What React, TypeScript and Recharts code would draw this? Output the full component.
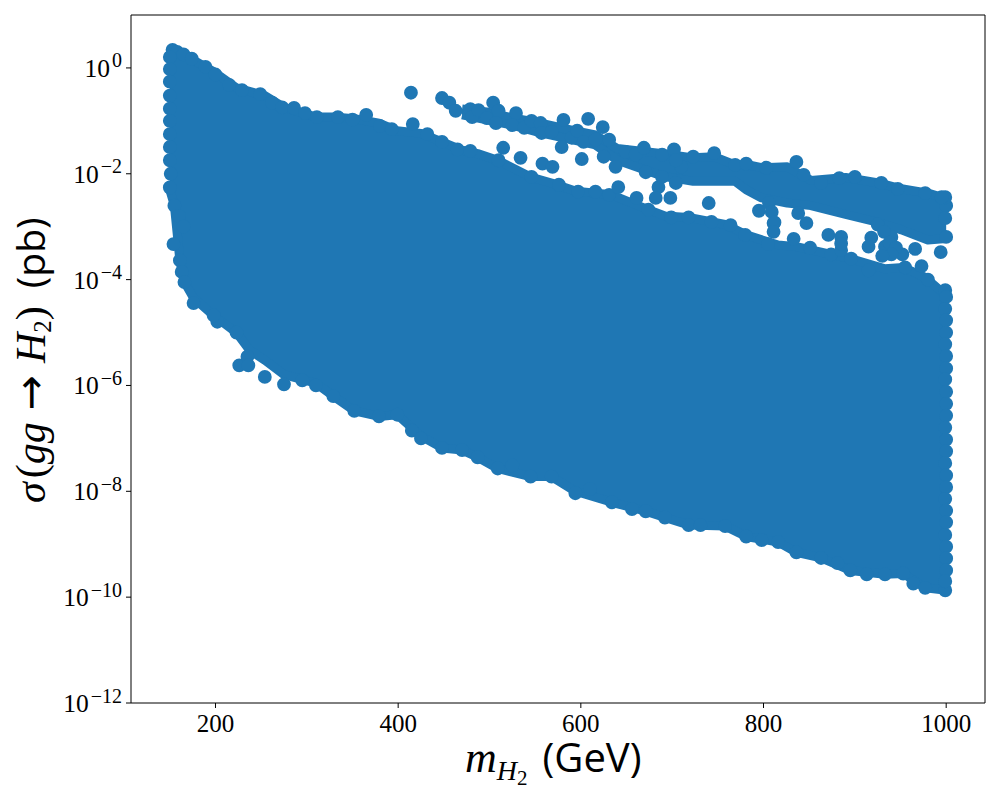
import { Area, ComposedChart, Label, ReferenceLine, Scatter, XAxis, YAxis, ZAxis } from "recharts";

const BLUE = "#1f77b4";
const SERIF = "'Liberation Serif', serif";
const SANS = "'Open Sans', 'Noto Sans', sans-serif";

const massTicks = [200, 400, 600, 800, 1000];
const sigmaTicks = [1e-12, 1e-10, 1e-8, 1e-6, 1e-4, 1e-2, 1];

// solid part of the cloud, upper and lower limit
const bodyMass = [150, 155, 161, 166, 176, 198, 223, 237, 254, 275, 310, 329, 352, 379, 399, 425, 448, 470, 487, 509, 545, 568, 594, 634, 671, 692, 718, 758, 781, 816, 836, 863, 895, 933, 953, 977, 1000];
const bodyHigh = [1.7, 2.1, 2.0, 1.8, 1.4, 0.85, 0.42, 0.36, 0.3, 0.18, 0.118, 0.118, 0.11, 0.09, 0.065, 0.058, 0.04, 0.028, 0.024, 0.018, 0.0087, 0.0067, 0.0047, 0.004, 0.0022, 0.0016, 0.0015, 0.0011, 0.0007, 0.00045, 0.00042, 0.00033, 0.00025, 0.00016, 0.00017, 0.00011, 5e-5];
const bodyLow = [5e-3, 2.5e-3, 2.3e-4, 9e-5, 4.5e-5, 2.1e-5, 1e-5, 4.7e-6, 3e-6, 1.6e-6, 1.1e-6, 6.3e-7, 3.3e-7, 2.6e-7, 2.8e-7, 1.1e-7, 6.6e-8, 6e-8, 4.4e-8, 2.7e-8, 1.9e-8, 1.9e-8, 1e-8, 6.2e-9, 4.2e-9, 3.2e-9, 2.3e-9, 2.2e-9, 1.4e-9, 1.1e-9, 7e-10, 5.5e-10, 3.2e-10, 2.7e-10, 2.8e-10, 1.5e-10, 1.35e-10];

// the separate upper ridge
const ridgeMass = [470, 497, 525, 556, 590, 616, 640, 690, 723, 746, 769, 781, 798, 826, 852, 890, 926, 951, 980, 1000];
const ridgeHigh = [0.167, 0.147, 0.113, 0.091, 0.067, 0.054, 0.03, 0.024, 0.02, 0.021, 0.0147, 0.015, 0.013, 0.0135, 0.0075, 0.0085, 0.0067, 0.0052, 0.0043, 0.0034];
const ridgeLow = [0.13, 0.104, 0.083, 0.059, 0.044, 0.035, 0.018, 0.009, 0.0072, 0.0072, 0.0072, 0.005, 0.0035, 0.0028, 0.0025, 0.0017, 0.0012, 0.00087, 0.00056, 0.0006];

const topDots = [[153, 2.2], [158, 2.0], [165, 1.8], [174, 1.5], [189, 1.05], [200, 0.75], [215, 0.48], [229, 0.38], [249, 0.32], [262, 0.22], [273, 0.18], [286, 0.175], [298, 0.14], [311, 0.118], [334, 0.118], [350, 0.105], [365, 0.13], [380, 0.08], [393, 0.07], [432, 0.056], [448, 0.04], [465, 0.029], [479, 0.027], [510, 0.018], [546, 0.0087], [576, 0.0062], [597, 0.0046], [616, 0.0046], [631, 0.004], [674, 0.0021], [699, 0.0015], [718, 0.0015], [743, 0.00123], [764, 0.00107], [780, 0.0007], [805, 0.00047], [851, 0.0004], [874, 0.0003], [896, 0.00025], [915, 0.00015], [955, 0.00017], [980, 0.0001], [999, 6.3e-5]];

const bottomDots = [[176, 3.6e-5], [202, 1.6e-5], [226, 2.4e-6], [235, 3.5e-6], [236, 2.4e-6], [275, 1.05e-6], [295, 1.25e-6], [310, 1e-6], [329, 6.3e-7], [352, 3.3e-7], [379, 2.6e-7], [399, 2.8e-7], [415, 1.4e-7], [425, 1e-7], [448, 6.6e-8], [470, 6e-8], [487, 4.4e-8], [509, 2.7e-8], [525, 3.1e-8], [545, 1.9e-8], [568, 1.9e-8], [594, 9.2e-9], [610, 1.1e-8], [634, 6.2e-9], [656, 4.6e-9], [671, 4.2e-9], [692, 3.2e-9], [718, 2.3e-9], [731, 2.3e-9], [758, 2.2e-9], [781, 1.4e-9], [798, 1.2e-9], [816, 1.1e-9], [836, 7e-10], [863, 5.5e-10], [881, 4.4e-10], [895, 3.2e-10], [913, 2.7e-10], [933, 2.7e-10], [953, 2.8e-10], [964, 1.8e-10], [977, 1.5e-10], [999, 1.35e-10]];

const leftDots = [[150, 1.6], [150, 0.95], [150, 0.55], [150, 0.3], [150, 0.17], [150, 0.1], [150, 0.056], [150, 0.032], [150, 0.018], [151, 0.01], [150, 0.0055], [155, 0.0025], [160, 0.0016], [165, 1e-3], [154, 4.7e-4], [161, 2.3e-4], [163, 1.4e-4], [166, 9e-5], [198, 2.1e-5], [223, 1e-5]];

const rightDots = [[1000, 4.7e-5], [999, 2.8e-5], [1000, 1.7e-5], [1000, 1e-5], [999, 6e-6], [1000, 3.6e-6], [1000, 2.1e-6], [999, 1.3e-6], [1000, 7.6e-7], [1000, 4.5e-7], [1000, 2.7e-7], [999, 1.6e-7], [1000, 9.5e-8], [1000, 5.7e-8], [999, 3.4e-8], [1000, 2e-8], [1000, 1.2e-8], [999, 7.2e-9], [1000, 4.3e-9], [1000, 2.6e-9], [999, 1.5e-9], [1000, 9e-10], [1000, 5.4e-10], [1000, 3.2e-10], [999, 2e-10], [1000, 0.0025], [999, 0.00145], [1000, 0.00064], [994, 0.00033], [999, 0.0036], [995, 0.0036]];

const ridgeDots = [[414, 0.34], [416, 0.087], [448, 0.27], [456, 0.22], [463, 0.155], [479, 0.167], [481, 0.118], [488, 0.16], [504, 0.22], [510, 0.155], [497, 0.113], [507, 0.091], [529, 0.14], [525, 0.083], [538, 0.074], [546, 0.1], [556, 0.091], [557, 0.059], [568, 0.062], [581, 0.104], [608, 0.109], [579, 0.032], [590, 0.048], [596, 0.065], [601, 0.019], [603, 0.04], [616, 0.044], [624, 0.076], [631, 0.044], [625, 0.021], [638, 0.0135], [649, 0.026], [660, 0.023], [669, 0.031], [671, 0.0107], [689, 0.023], [702, 0.029], [685, 0.0056], [689, 0.0087], [704, 0.0067], [710, 0.0135], [704, 0.018], [723, 0.021], [746, 0.0245], [769, 0.0147], [781, 0.0155], [803, 0.013], [836, 0.0167], [844, 0.0095], [863, 0.0067], [883, 0.0083], [900, 0.0087], [929, 0.0067], [947, 0.0052], [977, 0.0043]];

const strayDots = [[515, 0.031], [534, 0.02], [558, 0.0155], [569, 0.0135], [641, 0.0056], [661, 0.0035], [682, 0.0035], [698, 0.0035], [740, 0.0028], [795, 0.002], [811, 0.00117], [838, 0.0018], [847, 0.00117], [833, 0.00059], [871, 0.0007], [885, 0.00064], [885, 0.00036], [918, 0.00062], [915, 0.00042], [933, 0.00042], [940, 0.00064], [966, 0.00038], [952, 0.0003], [973, 0.00018], [254, 1.45e-6]];

// dots that tie the ridge to the body near 810 and 930 GeV
const bridgeDots = [[806, 0.0028], [809, 0.0019], [812, 0.0012], [811, 0.0008], [885, 0.00048], [925, 0.0011], [932, 0.0008], [938, 0.0005], [945, 0.0004], [940, 0.0003], [930, 0.00028]];

const toRows = (mass: number[], high: number[], low: number[]) =>
  mass.map((m, i) => ({ mass: m, band: [low[i], high[i]] }));

const bodyRows = toRows(bodyMass, bodyHigh, bodyLow);
const ridgeRows = toRows(ridgeMass, ridgeHigh, ridgeLow);
const dotRows = [...topDots, ...bottomDots, ...leftDots, ...rightDots, ...ridgeDots, ...strayDots, ...bridgeDots].map(([mass, sigma]) => ({ mass, sigma }));

const LogTick = ({ x, y, payload }: any) => (
  <text x={x - 2} y={y + 9} textAnchor="end" fontFamily={SERIF} fill="#000" fontSize={25.5}>
    10
    <tspan dx={2} dy={-9.5} fontSize={20}>
      {String(Math.round(Math.log10(payload.value))).replace("-", "−")}
    </tspan>
  </text>
);

const MassLabel = () => (
  <text x={465} y={772} fontFamily={SERIF} fill="#000" fontSize={44}>
    <tspan fontStyle="italic">m</tspan>
    <tspan dy={8} fontSize={28} fontStyle="italic">H</tspan>
    <tspan dy={5} fontSize={21}>2</tspan>
    <tspan dy={-13} dx={15} fontFamily={SANS} fontSize={40}>(GeV)</tspan>
  </text>
);

const SigmaLabel = () => (
  <text transform="translate(45 503) rotate(-90)" fontFamily={SERIF} fill="#000" fontSize={42}>
    <tspan fontStyle="italic">σ</tspan>
    <tspan dx={4}>(</tspan>
    <tspan fontStyle="italic">gg</tspan>
    <tspan dx={12} fontFamily="'DejaVu Sans'">→</tspan>
    <tspan dx={12} fontStyle="italic">H</tspan>
    <tspan dy={6} fontSize={25}>2</tspan>
    <tspan dy={-6}>)</tspan>
    <tspan dx={18} fontFamily={SANS} fontSize={39}>(pb)</tspan>
  </text>
);

export default function App() {
  return (
    <div style={{ position: "absolute", left: 0, top: 0, background: "#fff" }}>
      <ComposedChart width={1000} height={800} margin={{ top: 15, right: 15, bottom: 0, left: 0 }}>
        <XAxis
          dataKey="mass"
          type="number"
          domain={[107.5, 1042.5]}
          ticks={massTicks}
          height={97}
          tickSize={5}
          tickMargin={6}
          stroke="#000"
          tick={{ fontFamily: SERIF, fontSize: 25, fill: "#000" }}
        >
          <Label content={MassLabel} />
        </XAxis>
        <YAxis
          dataKey="sigma"
          type="number"
          scale="log"
          domain={[1e-12, 10]}
          allowDataOverflow
          ticks={sigmaTicks}
          interval={0}
          width={131}
          tickSize={5}
          stroke="#000"
          tick={LogTick}
        >
          <Label content={SigmaLabel} />
        </YAxis>
        <ZAxis range={[150, 150]} />
        <Area data={bodyRows} dataKey="band" stroke={BLUE} strokeWidth={9} strokeLinejoin="round" fill={BLUE} fillOpacity={1} dot={false} activeDot={false} isAnimationActive={false} />
        <Area data={ridgeRows} dataKey="band" stroke={BLUE} strokeWidth={9} strokeLinejoin="round" fill={BLUE} fillOpacity={1} dot={false} activeDot={false} isAnimationActive={false} />
        <Scatter data={dotRows} fill={BLUE} isAnimationActive={false} />
        <ReferenceLine y={10} stroke="#000" />
        <ReferenceLine x={1042.5} stroke="#000" />
      </ComposedChart>
    </div>
  );
}
